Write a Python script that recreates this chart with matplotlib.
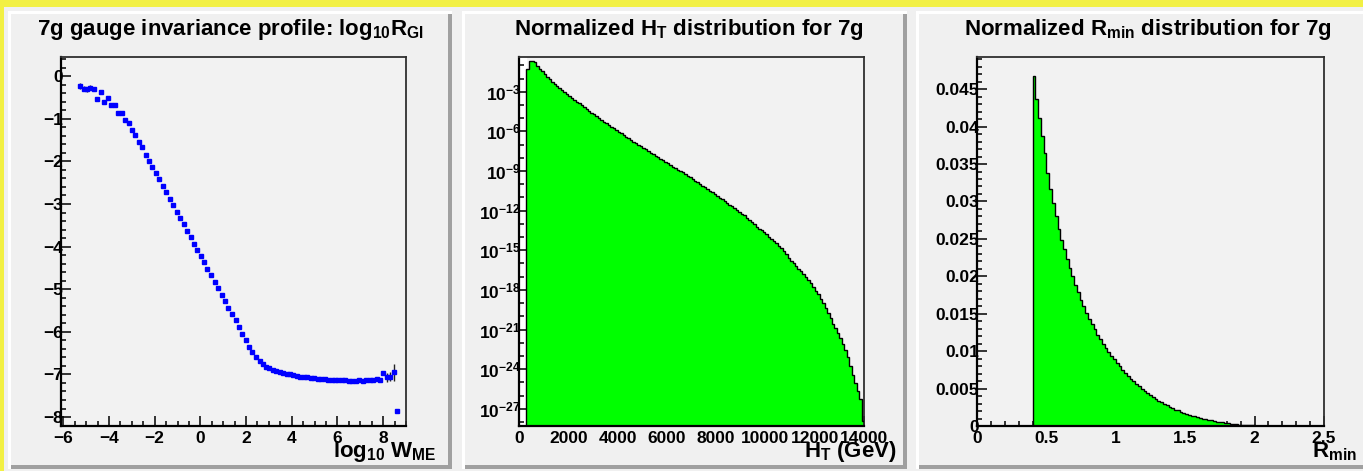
import numpy as np
import matplotlib.pyplot as plt
from matplotlib.patches import Rectangle
from matplotlib.ticker import FixedLocator, MultipleLocator

plt.rcParams['font.family'] = ['Liberation Sans', 'DejaVu Sans']
plt.rcParams['font.weight'] = 'bold'
plt.rcParams['mathtext.fontset'] = 'custom'
plt.rcParams['mathtext.rm'] = 'Liberation Sans:bold'
plt.rcParams['mathtext.it'] = 'Liberation Sans:bold'
plt.rcParams['mathtext.bf'] = 'Liberation Sans:bold'
plt.rcParams['mathtext.default'] = 'rm'

# ---- panel 1 : profile log10 R_GI vs log10 W_ME
w_me = [-5.26, -5.11, -4.96, -4.82, -4.66, -4.53, -4.37, -4.21, -4.06, -3.91,
        -3.74, -3.59, -3.45, -3.30, -3.14, -2.99, -2.84,
        -2.69, -2.56, -2.40, -2.24, -2.11, -1.95, -1.79, -1.65, -1.49, -1.33,
        -1.20, -1.04, -0.90, -0.72, -0.59, -0.43, -0.27, -0.14, 0.02, 0.18,
        0.31, 0.47, 0.63, 0.77, 0.93, 1.09, 1.22, 1.38, 1.54, 1.67,
        1.83, 1.99, 2.14, 2.27, 2.43, 2.59, 2.73, 2.89, 3.01,
        3.16, 3.31, 3.47, 3.62, 3.77, 3.92, 4.07, 4.22, 4.38, 4.53,
        4.68, 4.83, 4.98, 5.13, 5.29, 5.44, 5.59, 5.74, 5.89, 6.04,
        6.19, 6.35, 6.50, 6.65, 6.80, 6.95, 7.10, 7.26, 7.41, 7.56,
        7.71, 7.86, 8.01, 8.16, 8.32, 8.47, 8.62]
r_gi = [-0.23, -0.29, -0.31, -0.27, -0.31, -0.54, -0.38, -0.61, -0.52, -0.68,
        -0.67, -0.86, -0.86, -1.03, -1.11, -1.27, -1.39,
        -1.55, -1.67, -1.84, -1.98, -2.12, -2.28, -2.42, -2.57, -2.73, -2.88,
        -3.02, -3.18, -3.32, -3.47, -3.63, -3.78, -3.94, -4.08, -4.23, -4.37,
        -4.53, -4.67, -4.83, -4.97, -5.13, -5.27, -5.43, -5.57, -5.73, -5.88,
        -6.04, -6.20, -6.35, -6.48, -6.60, -6.68, -6.76, -6.82, -6.85,
        -6.89, -6.92, -6.94, -6.96, -6.98, -7.00, -7.02, -7.03, -7.05, -7.06,
        -7.07, -7.08, -7.09, -7.10, -7.10, -7.11, -7.12, -7.12, -7.13, -7.13,
        -7.14, -7.14, -7.15, -7.15, -7.16, -7.14, -7.15, -7.13, -7.13, -7.12,
        -7.10, -7.14, -6.97, -7.07, -7.05, -6.95, -7.85]
r_gi_err = [0.06, 0.05, 0.06, 0.06, 0.04, 0.03, 0.0, 0.0, 0.0, 0.0,
            0.0, 0.0, 0.0, 0.0, 0.0, 0.0, 0.0] + [0.0] * 69 + \
           [0.0, 0.0, 0.05, 0.1, 0.1, 0.2, 0.0]

# ---- panel 2 : H_T histogram, 100 GeV bins from 300 GeV
ht_first = 300
ht_width = 100
ht_log10 = [-1.28, -0.67, -0.68, -0.78, -1.02, -1.25, -1.46, -1.67, -1.88, -2.06,
            -2.24, -2.42, -2.59, -2.73, -2.88, -3.03, -3.18, -3.33, -3.47, -3.61,
            -3.74, -3.88, -4.02, -4.16, -4.30, -4.44, -4.58, -4.72, -4.85, -4.99,
            -5.13, -5.26, -5.39, -5.52, -5.65, -5.77, -5.90, -6.02, -6.15, -6.27,
            -6.40, -6.52, -6.65, -6.77, -6.89, -7.01, -7.12, -7.24, -7.36, -7.48,
            -7.60, -7.72, -7.84, -7.96, -8.08, -8.19, -8.31, -8.42, -8.54, -8.66,
            -8.77, -8.89, -9.00, -9.11, -9.24, -9.36, -9.48, -9.60, -9.73, -9.85,
            -9.97, -10.10, -10.22, -10.35, -10.48, -10.61, -10.74, -10.87, -11.01, -11.14,
            -11.27, -11.40, -11.54, -11.68, -11.81, -11.95, -12.09, -12.22, -12.36, -12.52,
            -12.69, -12.86, -13.03, -13.20, -13.36, -13.50, -13.65, -13.80, -13.96, -14.11,
            -14.30, -14.47, -14.66, -14.85, -15.03, -15.25, -15.55, -15.80, -16.00, -16.20,
            -16.40, -16.60, -16.82, -17.04, -17.26, -17.50, -17.78, -18.06, -18.34, -18.65,
            -19.01, -19.38, -19.76, -20.16, -20.55, -20.92, -21.28, -21.64, -22.10, -22.57,
            -23.10, -23.75, -24.45, -25.05, -25.65, -26.25, -27.90]

# ---- panel 3 : R_min histogram, 0.02 bins from 0.4
rmin_first = 0.40
rmin_width = 0.02
rmin_vals = [0.0468, 0.0437, 0.0412, 0.0388, 0.0365, 0.0338, 0.0316, 0.0298, 0.0280, 0.0263,
             0.0249, 0.0236, 0.0223, 0.0211, 0.0200, 0.0189, 0.0179, 0.0169, 0.0160, 0.0151,
             0.0143, 0.0136, 0.0129, 0.0122, 0.0116, 0.0110, 0.0104, 0.0099, 0.0094, 0.0089,
             0.0084, 0.0080, 0.0075, 0.0071, 0.0067, 0.0063, 0.0060, 0.0056, 0.0053, 0.0050,
             0.0047, 0.0044, 0.0041, 0.0039, 0.0036, 0.0034, 0.0032, 0.0030, 0.0028, 0.0026,
             0.0024, 0.0022, 0.0021, 0.0019, 0.0018, 0.0016, 0.0015, 0.0014, 0.0013, 0.0012,
             0.0011, 0.00100, 0.00090, 0.00082, 0.00074, 0.00066, 0.00059, 0.00053, 0.00047, 0.00041,
             0.00036, 0.00031, 0.00027, 0.00023, 0.00020, 0.00017, 0.00014, 0.00012, 0.00010, 0.00008,
             0.00006, 0.00005, 0.00004, 0.00003, 0.00002, 0.00002, 0.00001]

W, H = 1363, 471
yellow = '#f2f044'
padgray = '#f0f0f0'
TICK_FS = 12.5
TITLE_FS = 16
LABEL_FS = 16

fig = plt.figure(figsize=(W / 100, H / 100), dpi=100)
fig.patch.set_facecolor(yellow)

# pads drawn in pixel coordinates
bg = fig.add_axes([0, 0, 1, 1], zorder=-10)
bg.set_xlim(0, W)
bg.set_ylim(H, 0)
bg.axis('off')
bg.add_patch(Rectangle((4, 7), W, H, fc=padgray, ec='none'))
for x0, x1 in [(8, 452), (462, 907), (916, 1370)]:
    bg.add_patch(Rectangle((x0, 11), x1 - x0, 458, fc='white', ec='none'))
    bg.add_patch(Rectangle((x0 + 3, 14), x1 - x0 - 3, 455, fc='#a0a0a0', ec='none'))
    bg.add_patch(Rectangle((x0 + 3, 14), x1 - x0 - 7, 451, fc=padgray, ec='none'))


def frame_axes(left, right, top, bottom):
    ax = fig.add_axes([left / W, 1 - bottom / H, (right - left) / W, (bottom - top) / H])
    ax.set_facecolor('#f2f2f2')
    for s in ['left', 'bottom']:
        ax.spines[s].set_linewidth(1.6)
        ax.spines[s].set_color('black')
    for s in ['top', 'right']:
        ax.spines[s].set_linewidth(1.3)
        ax.spines[s].set_color('#303030')
    ax.tick_params(which='both', direction='in', top=False, right=False,
                   labelsize=TICK_FS, width=1.1, colors='black')
    ax.tick_params(which='major', length=7.5)
    ax.tick_params(which='minor', length=3.5)
    ax.tick_params(axis='y', pad=-1.5)
    ax.tick_params(axis='x', pad=3.5)
    return ax


def bold_labels(ax):
    for t in ax.get_xticklabels() + ax.get_yticklabels():
        t.set_fontweight('bold')


# panel 1
ax1 = frame_axes(61, 406, 57, 426)
ax1.errorbar(w_me, r_gi, yerr=r_gi_err, fmt='s', color='#0000ff', ms=2.8,
             ecolor='#222222', elinewidth=1, capsize=0, zorder=3)
ax1.set_xlim(-6.1, 9.0)
ax1.set_ylim(-8.21, 0.45)
ax1.xaxis.set_major_locator(MultipleLocator(2))
ax1.xaxis.set_minor_locator(MultipleLocator(0.5))
ax1.yaxis.set_major_locator(MultipleLocator(1))
ax1.yaxis.set_minor_locator(MultipleLocator(0.2))
bold_labels(ax1)
fig.text(230 / W, 1 - 30 / H, r'7g gauge invariance profile: log$_{10}$R$_{GI}$',
         ha='center', va='center', fontsize=TITLE_FS, fontweight='bold')
fig.text(437 / W, 1 - 452 / H, r'log$_{10}$ W$_{ME}$', ha='right', va='center',
         fontsize=LABEL_FS, fontweight='bold')

# panel 2
ax2 = frame_axes(519, 864, 57, 426)
ht_edges = ht_first + ht_width * np.arange(len(ht_log10) + 1)
ht_vals = 10.0 ** np.array(ht_log10)
ax2.axvspan(0, ht_first, color='white', zorder=1)
ax2.stairs(ht_vals, ht_edges, fill=True, color='#00ff00', baseline=1e-40, zorder=2)
ax2.stairs(ht_vals, ht_edges, color='black', lw=1.0, baseline=1e-40, zorder=3)
ax2.set_yscale('log')
ax2.set_xlim(0, 14000)
ax2.set_ylim(10 ** -28.3, 10 ** -0.37)
ax2.xaxis.set_major_locator(MultipleLocator(2000))
ax2.xaxis.set_minor_locator(MultipleLocator(500))
dec = [-3, -6, -9, -12, -15, -18, -21, -24, -27]
ax2.yaxis.set_major_locator(FixedLocator([10.0 ** d for d in dec]))
ax2.yaxis.set_major_formatter(plt.FixedFormatter([r'$10^{%d}$' % d for d in dec]))
ax2.yaxis.set_minor_locator(FixedLocator([10.0 ** d for d in range(-28, 0)]))
ax2.yaxis.set_minor_formatter(plt.NullFormatter())
bold_labels(ax2)
fig.text(689 / W, 1 - 30 / H, r'Normalized H$_T$ distribution for 7g',
         ha='center', va='center', fontsize=TITLE_FS, fontweight='bold')
fig.text(897 / W, 1 - 452 / H, r'H$_T$ (GeV)', ha='right', va='center',
         fontsize=LABEL_FS, fontweight='bold')

# panel 3
ax3 = frame_axes(977, 1324, 57, 426)
rmin_edges = rmin_first + rmin_width * np.arange(len(rmin_vals) + 1)
ax3.stairs(rmin_vals, rmin_edges, fill=True, color='#00ff00', baseline=0, zorder=2)
ax3.stairs(rmin_vals, rmin_edges, color='black', lw=1.0, baseline=0, zorder=3)
ax3.set_xlim(0, 2.5)
ax3.set_ylim(0, 0.0493)
ax3.xaxis.set_major_locator(MultipleLocator(0.5))
ax3.xaxis.set_minor_locator(MultipleLocator(0.1))
ax3.yaxis.set_major_locator(MultipleLocator(0.005))
ax3.yaxis.set_minor_locator(MultipleLocator(0.001))
ax3.xaxis.set_major_formatter(plt.FuncFormatter(lambda v, p: '%g' % round(v, 3)))
ax3.yaxis.set_major_formatter(plt.FuncFormatter(lambda v, p: '%g' % round(v, 4)))
bold_labels(ax3)
fig.text(1148 / W, 1 - 30 / H, r'Normalized R$_{min}$ distribution for 7g',
         ha='center', va='center', fontsize=TITLE_FS, fontweight='bold')
fig.text(1357 / W, 1 - 452 / H, r'R$_{min}$', ha='right', va='center',
         fontsize=LABEL_FS, fontweight='bold')

fig.savefig('out.png', dpi=100, facecolor=yellow)
